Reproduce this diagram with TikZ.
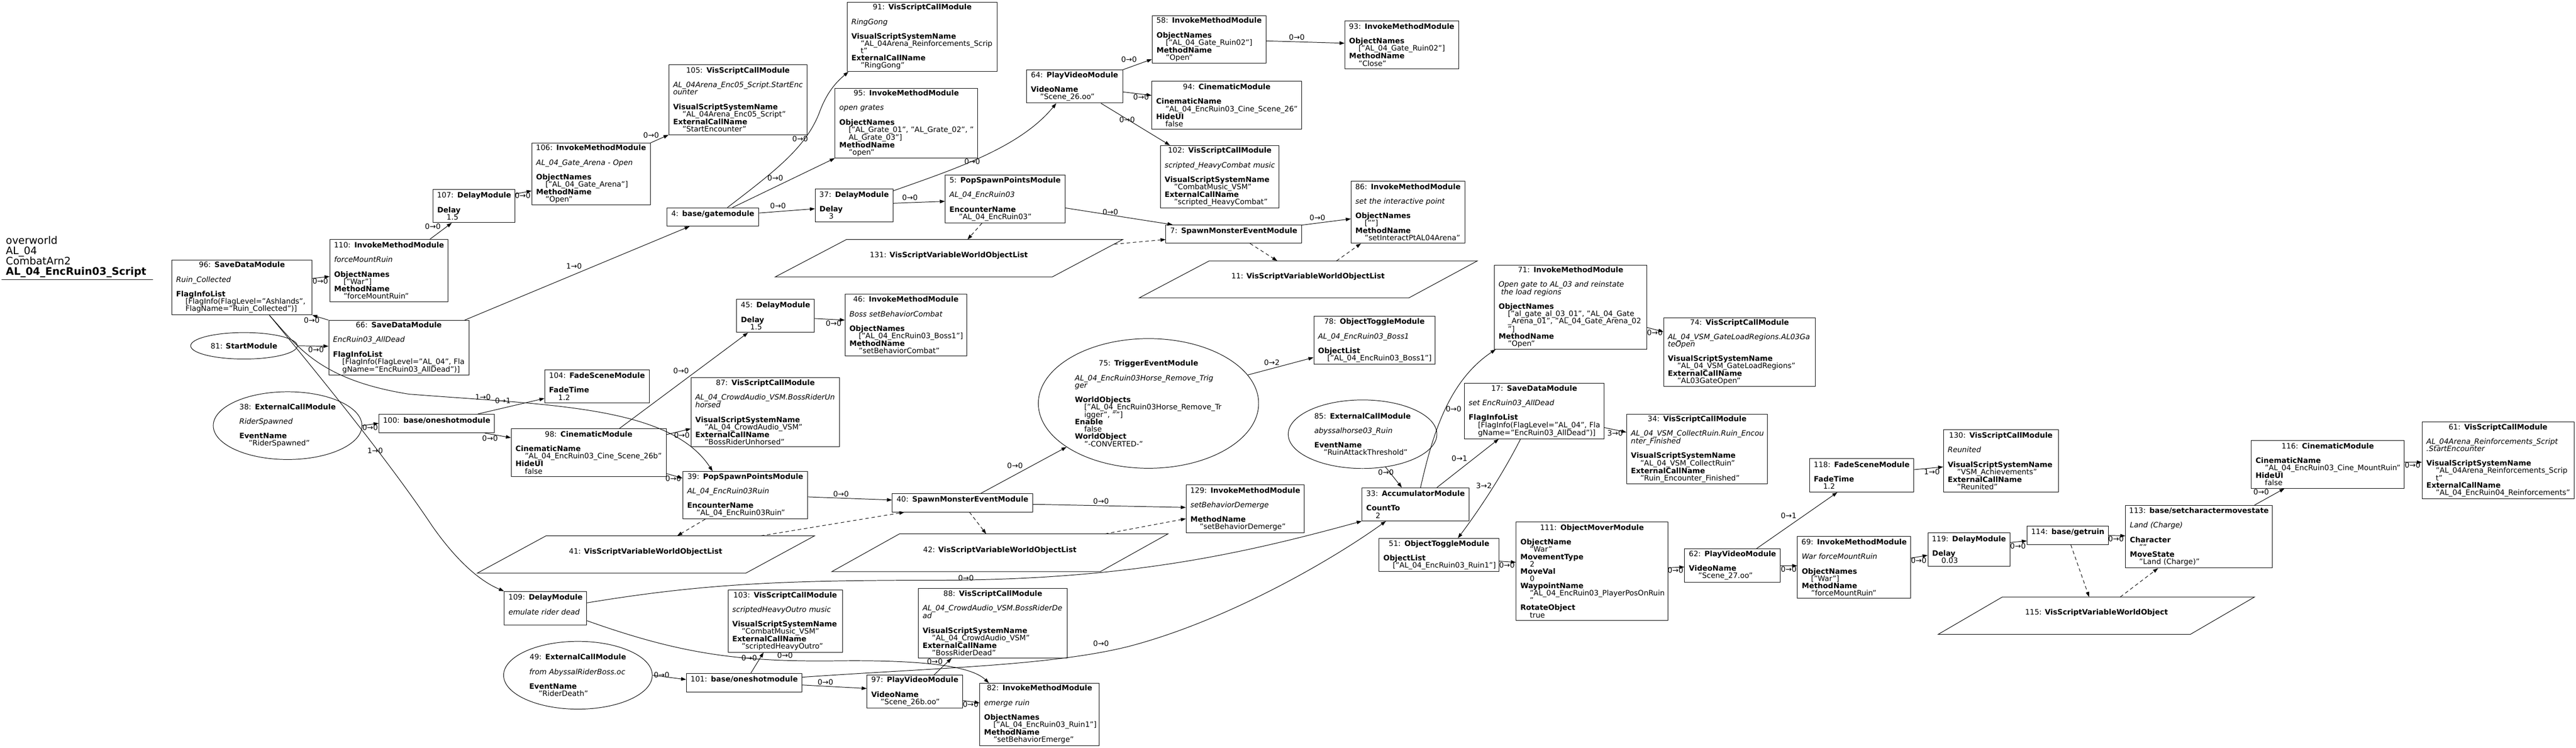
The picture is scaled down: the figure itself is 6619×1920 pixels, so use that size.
\documentclass[tikz,border=0pt]{standalone}
\usepackage{fontspec}
\setmainfont{DejaVu Sans}
\usetikzlibrary{arrows.meta,shapes.geometric}
\newcommand{\nf}{\fontsize{19pt}{18.7pt}\selectfont}
\newcommand{\hdr}[2]{\makebox[\linewidth][c]{#1: \textbf{#2}}}
\newcommand{\itl}[1]{\mbox{\textit{#1}}}
\newcommand{\kw}[1]{\mbox{\textbf{#1}}}
\newcommand{\vl}[1]{\hspace*{24pt}\mbox{#1}}
\newcommand{\bl}{\mbox{}}
\begin{document}
\begin{tikzpicture}[x=1pt,y=-1pt,
  box/.style={draw, line width=1.3pt, rectangle, anchor=north west, inner xsep=11pt, inner ysep=0pt, align=left, font=\nf},
  ell/.style={draw, line width=1.3pt, ellipse, inner sep=0pt, align=left, font=\nf},
  ar/.style={line width=1.3pt, -{Triangle[length=13pt,width=9pt]}},
  dar/.style={ar, dash pattern=on 9pt off 7pt},
  lab/.style={font=\nf, inner sep=0pt},
  plab/.style={font=\nf, inner sep=0pt, align=center},
  pline/.style={draw, line width=1.3pt}]
\fill[white] (0,0) rectangle (6619,1920);
\useasboundingbox (0,0) rectangle (6619,1920);

% title
\node[anchor=north west, inner sep=0pt, align=left, font=\fontsize{26.6pt}{26.5pt}\selectfont] (title) at (15,606) {overworld\\AL\_04\\CombatArn2\\\textbf{AL\_04\_EncRuin03\_Script}};
\draw[line width=1.3pt] (4,718) -- (393,718);

% boxes
\node[box, minimum width=360pt, minimum height=141pt, text width=338pt] (n96) at (441,667) {\hdr{96}{SaveDataModule}\\ \bl\\ \itl{Ruin\_Collected}\\ \bl\\ \kw{FlagInfoList}\\ \vl{[FlagInfo(FlagLevel="Ashlands",}\\ \vl{FlagName="Ruin\_Collected")]}};
\node[box, minimum width=304pt, minimum height=160pt, text width=282pt] (n110) at (847,614) {\hdr{110}{InvokeMethodModule}\\ \bl\\ \itl{forceMountRuin}\\ \bl\\ \kw{ObjectNames}\\ \vl{["War"]}\\ \kw{MethodName}\\ \vl{"forceMountRuin"}};
\node[box, minimum width=211pt, minimum height=85pt, text width=189pt] (n107) at (1112,486) {\hdr{107}{DelayModule}\\ \bl\\ \kw{Delay}\\ \vl{1.5}};
\node[box, minimum width=304pt, minimum height=159pt, text width=282pt] (n106) at (1366,367) {\hdr{106}{InvokeMethodModule}\\ \bl\\ \itl{AL\_04\_Gate\_Arena - Open}\\ \bl\\ \kw{ObjectNames}\\ \vl{["AL\_04\_Gate\_Arena"]}\\ \kw{MethodName}\\ \vl{"Open"}};
\node[box, minimum width=355pt, minimum height=180pt, text width=333pt] (n105) at (1718,165) {\hdr{105}{VisScriptCallModule}\\ \bl\\ \itl{AL\_04Arena\_Enc05\_Script.StartEnc}\\ \itl{ounter}\\ \bl\\ \kw{VisualScriptSystemName}\\ \vl{"AL\_04Arena\_Enc05\_Script"}\\ \kw{ExternalCallName}\\ \vl{"StartEncounter"}};
\node[box, minimum width=386pt, minimum height=178pt, text width=364pt] (n91) at (2176,5) {\hdr{91}{VisScriptCallModule}\\ \bl\\ \itl{RingGong}\\ \bl\\ \kw{VisualScriptSystemName}\\ \vl{"AL\_04Arena\_Reinforcements\_Scrip}\\ \vl{t"}\\ \kw{ExternalCallName}\\ \vl{"RingGong"}};
\node[box, minimum width=366pt, minimum height=178pt, text width=344pt] (n95) at (2145,227) {\hdr{95}{InvokeMethodModule}\\ \bl\\ \itl{open grates}\\ \bl\\ \kw{ObjectNames}\\ \vl{["AL\_Grate\_01", "AL\_Grate\_02", "}\\ \vl{AL\_Grate\_03"]}\\ \kw{MethodName}\\ \vl{"open"}};
\node[box, minimum width=236pt, minimum height=47pt, text width=214pt] (n4) at (1713,533) {\hdr{4}{base/gatemodule}\\ \bl};
\node[box, minimum width=200pt, minimum height=85pt, text width=178pt] (n37) at (2094,484) {\hdr{37}{DelayModule}\\ \bl\\ \kw{Delay}\\ \vl{3}};
\node[box, minimum width=308pt, minimum height=123pt, text width=286pt] (n5) at (2428,449) {\hdr{5}{PopSpawnPointsModule}\\ \bl\\ \itl{AL\_04\_EncRuin03}\\ \bl\\ \kw{EncounterName}\\ \vl{"AL\_04\_EncRuin03"}};
\node[box, minimum width=247pt, minimum height=85pt, text width=225pt] (n64) at (2637,179) {\hdr{64}{PlayVideoModule}\\ \bl\\ \kw{VideoName}\\ \vl{"Scene\_26.oo"}};
\node[box, minimum width=292pt, minimum height=122pt, text width=270pt] (n58) at (2960,40) {\hdr{58}{InvokeMethodModule}\\ \bl\\ \kw{ObjectNames}\\ \vl{["AL\_04\_Gate\_Ruin02"]}\\ \kw{MethodName}\\ \vl{"Open"}};
\node[box, minimum width=292pt, minimum height=123pt, text width=270pt] (n93) at (3455,53) {\hdr{93}{InvokeMethodModule}\\ \bl\\ \kw{ObjectNames}\\ \vl{["AL\_04\_Gate\_Ruin02"]}\\ \kw{MethodName}\\ \vl{"Close"}};
\node[box, minimum width=385pt, minimum height=123pt, text width=363pt] (n94) at (2959,208) {\hdr{94}{CinematicModule}\\ \bl\\ \kw{CinematicName}\\ \vl{"AL\_04\_EncRuin03\_Cine\_Scene\_26"}\\ \kw{HideUI}\\ \vl{false}};
\node[box, minimum width=305pt, minimum height=161pt, text width=283pt] (n102) at (2981,373) {\hdr{102}{VisScriptCallModule}\\ \bl\\ \itl{scripted\_HeavyCombat music}\\ \bl\\ \kw{VisualScriptSystemName}\\ \vl{"CombatMusic\_VSM"}\\ \kw{ExternalCallName}\\ \vl{"scripted\_HeavyCombat"}};
\node[box, minimum width=292pt, minimum height=160pt, text width=270pt] (n86) at (3471,464) {\hdr{86}{InvokeMethodModule}\\ \bl\\ \itl{set the interactive point}\\ \bl\\ \kw{ObjectNames}\\ \vl{[""]}\\ \kw{MethodName}\\ \vl{"setInteractPtAL04Arena"}};
\node[box, minimum width=349pt, minimum height=47pt, text width=327pt] (n7) at (2995,577) {\hdr{7}{SpawnMonsterEventModule}\\ \bl};
\node[box, minimum width=200pt, minimum height=85pt, text width=178pt] (n45) at (1892,768) {\hdr{45}{DelayModule}\\ \bl\\ \kw{Delay}\\ \vl{1.5}};
\node[box, minimum width=312pt, minimum height=160pt, text width=290pt] (n46) at (2171,754) {\hdr{46}{InvokeMethodModule}\\ \bl\\ \itl{Boss setBehaviorCombat}\\ \bl\\ \kw{ObjectNames}\\ \vl{["AL\_04\_EncRuin03\_Boss1"]}\\ \kw{MethodName}\\ \vl{"setBehaviorCombat"}};
\node[box, minimum width=269pt, minimum height=85pt, text width=247pt] (n104) at (1399,949) {\hdr{104}{FadeSceneModule}\\ \bl\\ \kw{FadeTime}\\ \vl{1.2}};
\node[box, minimum width=360pt, minimum height=141pt, text width=338pt] (n66) at (844,822) {\hdr{66}{SaveDataModule}\\ \bl\\ \itl{EncRuin03\_AllDead}\\ \bl\\ \kw{FlagInfoList}\\ \vl{[FlagInfo(FlagLevel="AL\_04", Fla}\\ \vl{gName="EncRuin03\_AllDead")]}};
\node[box, minimum width=297pt, minimum height=48pt, text width=275pt] (n100) at (973,1063) {\hdr{100}{base/oneshotmodule}\\ \bl};
\node[box, minimum width=398pt, minimum height=123pt, text width=376pt] (n98) at (1313,1100) {\hdr{98}{CinematicModule}\\ \bl\\ \kw{CinematicName}\\ \vl{"AL\_04\_EncRuin03\_Cine\_Scene\_26b"}\\ \kw{HideUI}\\ \vl{false}};
\node[box, minimum width=382pt, minimum height=178pt, text width=360pt] (n87) at (1775,969) {\hdr{87}{VisScriptCallModule}\\ \bl\\ \itl{AL\_04\_CrowdAudio\_VSM.BossRiderUn}\\ \itl{horsed}\\ \bl\\ \kw{VisualScriptSystemName}\\ \vl{"AL\_04\_CrowdAudio\_VSM"}\\ \kw{ExternalCallName}\\ \vl{"BossRiderUnhorsed"}};
\node[box, minimum width=321pt, minimum height=122pt, text width=299pt] (n39) at (1754,1210) {\hdr{39}{PopSpawnPointsModule}\\ \bl\\ \itl{AL\_04\_EncRuin03Ruin}\\ \bl\\ \kw{EncounterName}\\ \vl{"AL\_04\_EncRuin03Ruin"}};
\node[box, minimum width=361pt, minimum height=47pt, text width=339pt] (n40) at (2292,1267) {\hdr{40}{SpawnMonsterEventModule}\\ \bl};
\node[box, minimum width=304pt, minimum height=123pt, text width=282pt] (n129) at (3047,1245) {\hdr{129}{InvokeMethodModule}\\ \bl\\ \itl{setBehaviorDemerge}\\ \bl\\ \kw{MethodName}\\ \vl{"setBehaviorDemerge"}};
\node[box, minimum width=212pt, minimum height=86pt, text width=190pt] (n109) at (1295,1518) {\hdr{109}{DelayModule}\\ \bl\\ \itl{emulate rider dead}\\ \bl};
\node[box, minimum width=294pt, minimum height=159pt, text width=272pt] (n103) at (1870,1515) {\hdr{103}{VisScriptCallModule}\\ \bl\\ \itl{scriptedHeavyOutro music}\\ \bl\\ \kw{VisualScriptSystemName}\\ \vl{"CombatMusic\_VSM"}\\ \kw{ExternalCallName}\\ \vl{"scriptedHeavyOutro"}};
\node[box, minimum width=383pt, minimum height=179pt, text width=361pt] (n88) at (2359,1510) {\hdr{88}{VisScriptCallModule}\\ \bl\\ \itl{AL\_04\_CrowdAudio\_VSM.BossRiderDe}\\ \itl{ad}\\ \bl\\ \kw{VisualScriptSystemName}\\ \vl{"AL\_04\_CrowdAudio\_VSM"}\\ \kw{ExternalCallName}\\ \vl{"BossRiderDead"}};
\node[box, minimum width=297pt, minimum height=47pt, text width=275pt] (n101) at (1763,1729) {\hdr{101}{base/oneshotmodule}\\ \bl};
\node[box, minimum width=246pt, minimum height=84pt, text width=224pt] (n97) at (2227,1733) {\hdr{97}{PlayVideoModule}\\ \bl\\ \kw{VideoName}\\ \vl{"Scene\_26b.oo"}};
\node[box, minimum width=307pt, minimum height=160pt, text width=285pt] (n82) at (2517,1754) {\hdr{82}{InvokeMethodModule}\\ \bl\\ \itl{emerge ruin}\\ \bl\\ \kw{ObjectNames}\\ \vl{["AL\_04\_EncRuin03\_Ruin1"]}\\ \kw{MethodName}\\ \vl{"setBehaviorEmerge"}};
\node[box, minimum width=312pt, minimum height=123pt, text width=290pt] (n78) at (3375,812) {\hdr{78}{ObjectToggleModule}\\ \bl\\ \itl{AL\_04\_EncRuin03\_Boss1}\\ \bl\\ \kw{ObjectList}\\ \vl{["AL\_04\_EncRuin03\_Boss1"]}};
\node[box, minimum width=392pt, minimum height=216pt, text width=370pt] (n71) at (3839,680) {\hdr{71}{InvokeMethodModule}\\ \bl\\ \itl{Open gate to AL\_03 and reinstate}\\ \itl{\ the load regions}\\ \bl\\ \kw{ObjectNames}\\ \vl{["al\_gate\_al\_03\_01", "AL\_04\_Gate}\\ \vl{\_Arena\_01", "AL\_04\_Gate\_Arena\_02}\\ \vl{"]}\\ \kw{MethodName}\\ \vl{"Open"}};
\node[box, minimum width=390pt, minimum height=177pt, text width=368pt] (n74) at (4274,815) {\hdr{74}{VisScriptCallModule}\\ \bl\\ \itl{AL\_04\_VSM\_GateLoadRegions.AL03Ga}\\ \itl{teOpen}\\ \bl\\ \kw{VisualScriptSystemName}\\ \vl{"AL\_04\_VSM\_GateLoadRegions"}\\ \kw{ExternalCallName}\\ \vl{"AL03GateOpen"}};
\node[box, minimum width=275pt, minimum height=85pt, text width=253pt] (n33) at (3499,1252) {\hdr{33}{AccumulatorModule}\\ \bl\\ \kw{CountTo}\\ \vl{2}};
\node[box, minimum width=359pt, minimum height=142pt, text width=337pt] (n17) at (3762,984) {\hdr{17}{SaveDataModule}\\ \bl\\ \itl{set EncRuin03\_AllDead}\\ \bl\\ \kw{FlagInfoList}\\ \vl{[FlagInfo(FlagLevel="AL\_04", Fla}\\ \vl{gName="EncRuin03\_AllDead")]}};
\node[box, minimum width=308pt, minimum height=85pt, text width=286pt] (n51) at (3543,1382) {\hdr{51}{ObjectToggleModule}\\ \bl\\ \kw{ObjectList}\\ \vl{["AL\_04\_EncRuin03\_Ruin1"]}};
\node[box, minimum width=390pt, minimum height=252pt, text width=368pt] (n111) at (3895,1340) {\hdr{111}{ObjectMoverModule}\\ \bl\\ \kw{ObjectName}\\ \vl{"War"}\\ \kw{MovementType}\\ \vl{2}\\ \kw{MoveVal}\\ \vl{0}\\ \kw{WaypointName}\\ \vl{"AL\_04\_EncRuin03\_PlayerPosOnRuin}\\ \vl{"}\\ \kw{RotateObject}\\ \vl{true}};
\node[box, minimum width=362pt, minimum height=179pt, text width=340pt] (n34) at (4179,1063) {\hdr{34}{VisScriptCallModule}\\ \bl\\ \itl{AL\_04\_VSM\_CollectRuin.Ruin\_Encou}\\ \itl{nter\_Finished}\\ \bl\\ \kw{VisualScriptSystemName}\\ \vl{"AL\_04\_VSM\_CollectRuin"}\\ \kw{ExternalCallName}\\ \vl{"Ruin\_Encounter\_Finished"}};
\node[box, minimum width=268pt, minimum height=86pt, text width=246pt] (n118) at (4649,1177) {\hdr{118}{FadeSceneModule}\\ \bl\\ \kw{FadeTime}\\ \vl{1.2}};
\node[box, minimum width=295pt, minimum height=160pt, text width=273pt] (n130) at (4993,1103) {\hdr{130}{VisScriptCallModule}\\ \bl\\ \itl{Reunited}\\ \bl\\ \kw{VisualScriptSystemName}\\ \vl{"VSM\_Achievements"}\\ \kw{ExternalCallName}\\ \vl{"Reunited"}};
\node[box, minimum width=246pt, minimum height=85pt, text width=224pt] (n62) at (4328,1409) {\hdr{62}{PlayVideoModule}\\ \bl\\ \kw{VideoName}\\ \vl{"Scene\_27.oo"}};
\node[box, minimum width=291pt, minimum height=159pt, text width=269pt] (n69) at (4618,1377) {\hdr{69}{InvokeMethodModule}\\ \bl\\ \itl{War forceMountRuin}\\ \bl\\ \kw{ObjectNames}\\ \vl{["War"]}\\ \kw{MethodName}\\ \vl{"forceMountRuin"}};
\node[box, minimum width=211pt, minimum height=85pt, text width=189pt] (n119) at (4953,1368) {\hdr{119}{DelayModule}\\ \bl\\ \kw{Delay}\\ \vl{0.03}};
\node[box, minimum width=209pt, minimum height=48pt, text width=187pt] (n114) at (5208,1350) {\hdr{114}{base/getruin}\\ \bl};
\node[box, minimum width=377pt, minimum height=161pt, text width=355pt] (n113) at (5461,1297) {\hdr{113}{base/setcharactermovestate}\\ \bl\\ \itl{Land (Charge)}\\ \bl\\ \kw{Character}\\ \vl{""}\\ \kw{MoveState}\\ \vl{"Land (Charge)"}};
\node[box, minimum width=393pt, minimum height=123pt, text width=371pt] (n116) at (5784,1130) {\hdr{116}{CinematicModule}\\ \bl\\ \kw{CinematicName}\\ \vl{"AL\_04\_EncRuin03\_Cine\_MountRuin"}\\ \kw{HideUI}\\ \vl{false}};
\node[box, minimum width=390pt, minimum height=197pt, text width=368pt] (n61) at (6223,1083) {\hdr{61}{VisScriptCallModule}\\ \bl\\ \itl{AL\_04Arena\_Reinforcements\_Script}\\ \itl{.StartEncounter}\\ \bl\\ \kw{VisualScriptSystemName}\\ \vl{"AL\_04Arena\_Reinforcements\_Scrip}\\ \vl{t"}\\ \kw{ExternalCallName}\\ \vl{"AL\_04\_EncRuin04\_Reinforcements"}};

% ellipses
\node[ell, align=center, minimum width=274pt, minimum height=68pt] (e81) at (627,888) {81: \textbf{StartModule}};
\node[ell, minimum width=382pt, minimum height=174pt, text width=248pt] (e38) at (739,1093) {\hdr{38}{ExternalCallModule}\\ \bl\\ \itl{RiderSpawned}\\ \bl\\ \kw{EventName}\\ \vl{"RiderSpawned"}};
\node[ell, minimum width=382pt, minimum height=174pt, text width=250pt] (e49) at (1485,1734) {\hdr{49}{ExternalCallModule}\\ \bl\\ \itl{from AbyssalRiderBoss.oc}\\ \bl\\ \kw{EventName}\\ \vl{"RiderDeath"}};
\node[ell, minimum width=382pt, minimum height=176pt, text width=248pt] (e85) at (3501,1115) {\hdr{85}{ExternalCallModule}\\ \bl\\ \itl{abyssalhorse03\_Ruin}\\ \bl\\ \kw{EventName}\\ \vl{"RuinAttackThreshold"}};
\node[ell, minimum width=566pt, minimum height=333pt, text width=378pt] (e75) at (2951,1036) {\hdr{75}{TriggerEventModule}\\ \bl\\ \itl{AL\_04\_EncRuin03Horse\_Remove\_Trig}\\ \itl{ger}\\ \bl\\ \kw{WorldObjects}\\ \vl{["AL\_04\_EncRuin03Horse\_Remove\_Tr}\\ \vl{igger", ""]}\\ \kw{Enable}\\ \vl{false}\\ \kw{WorldObject}\\ \vl{"-CONVERTED-"}};

% parallelograms
\draw[pline] (2175,615) -- (2885,615) -- (2704,711) -- (1992,711) -- cycle;
\node[plab] (p131) at (2438,663) {131: \textbf{VisScriptVariableWorldObjectList}\\\mbox{}};
\draw[pline] (3107,670) -- (3796,670) -- (3620,765) -- (2927,765) -- cycle;
\node[plab] (p11) at (3361,718) {11: \textbf{VisScriptVariableWorldObjectList}\\\mbox{}};
\draw[pline] (1403,1376) -- (2093,1376) -- (1916,1472) -- (1226,1472) -- cycle;
\node[plab] (p41) at (1659,1424) {41: \textbf{VisScriptVariableWorldObjectList}\\\mbox{}};
\draw[pline] (2311,1371) -- (3001,1371) -- (2827,1468) -- (2137,1468) -- cycle;
\node[plab] (p42) at (2569,1420) {42: \textbf{VisScriptVariableWorldObjectList}\\\mbox{}};
\draw[pline] (5145,1533) -- (5793,1533) -- (5628,1629) -- (4980,1629) -- cycle;
\node[plab] (p115) at (5387,1581) {115: \textbf{VisScriptVariableWorldObject}\\\mbox{}};
\coordinate (p131in) at (2486,615);
\coordinate (p131out) at (2863,627);
\coordinate (p11in) at (3282,670);
\coordinate (p11out) at (3434,670);
\coordinate (p41in) at (1740,1376);
\coordinate (p41out) at (1955,1376);
\coordinate (p42in) at (2534,1371);
\coordinate (p42out) at (2839,1371);
\coordinate (p115in) at (5368,1533);
\coordinate (p115out) at (5448,1533);

% edges
\draw[ar] (n96.east|-0,715) -- (n110.west|-0,710);
\draw[ar] (n110.north -| 1105,0) -- (n107.south -| 1161,0);
\draw[ar] (n107.east|-0,498) -- (n106.west|-0,490);
\draw[ar] (n106.north east) -- (n105.south west);
\draw[ar] (n66.north west) -- (n96.south east);
\draw[ar] (e81.east) -- (n66.west|-0,889);
\draw[ar] (n66.north -| 1194,0) -- (n4.south -| 1772,0);
\draw[ar] (n96.south -| 692,0) .. controls (765,890) and (820,975) .. (1050,1012) .. controls (1400,1040) and (1720,1040) .. (n39.north -| 1831,0);
\draw[ar] (n96.south -| 692,0) .. controls (850,1000) and (1010,1200) .. (1110,1350) .. controls (1180,1450) and (1240,1495) .. (n109.north west);
\draw[ar] (e38.east) -- (n100.west|-0,1087);
\draw[ar] (n100.north -| 1228,0) -- (n104.west|-0,1023);
\draw[ar] (n100.south -| 1246,0) -- (n98.west|-0,1124);
\draw[ar] (n98.north -| 1592,0) -- (n45.south -| 1922,0);
\draw[ar] (n98.east|-0,1116) -- (n87.west|-0,1101);
\draw[ar] (n98.east|-0,1216) -- (n39.west|-0,1228);
\draw[ar] (n45.east|-0,818) -- (n46.west|-0,822);
\draw[ar] (n4.north -| 1869,0) .. controls (1990,440) and (2070,380) .. (2105,290) .. controls (2125,235) and (2150,210) .. (n91.south -| 2180,0);
\draw[ar] (n4.north -| 1882,0) -- (n95.south west);
\draw[ar] (n4.east|-0,547) -- (n37.west|-0,536);
\draw[ar] (n37.east|-0,490) .. controls (2450,435) and (2620,380) .. (n64.south -| 2714,0);
\draw[ar] (n37.east|-0,522) -- (n5.west|-0,517);
\draw[dar] (n5.south -| 2523,0) -- (p131in);
\draw[ar] (n5.east|-0,534) -- (n7.north -| 3013,0);
\draw[dar] (p131out) -- (n7.west|-0,615);
\draw[dar] (n7.south -| 3212,0) -- (p11in);
\draw[dar] (p11out) -- (n86.south -| 3497,0);
\draw[ar] (n7.east|-0,578) -- (n86.west|-0,562);
\draw[ar] (n64.north east) -- (n58.west|-0,152);
\draw[ar] (n58.east|-0,105) -- (n93.west|-0,111);
\draw[ar] (n64.east|-0,236) -- (n94.west|-0,245);
\draw[ar] (n64.south -| 2829,0) -- (n102.north -| 3006,0);
\draw[ar] (n39.east|-0,1276) -- (n40.west|-0,1284);
\draw[dar] (n39.south -| 1812,0) -- (p41in);
\draw[dar] (p41out) -- (n40.south -| 2324,0);
\draw[dar] (n40.south -| 2491,0) -- (p42in);
\draw[dar] (p42out) -- (n129.west|-0,1332);
\draw[ar] (n40.east|-0,1295) -- (n129.west|-0,1303);
\draw[ar] (n40.north -| 2520,0) -- (e75.208);
\draw[ar] (e75.16) -- (n78.west|-0,918);
\draw[ar] (n33.north -| 3650,0) .. controls (3680,1120) and (3720,980) .. (n71.south -| 3843,0);
\draw[ar] (n33.north -| 3692,0) -- (n17.south -| 3851,0);
\draw[ar] (e85.-55) -- (n33.north -| 3602,0);
\draw[ar] (n17.south -| 3907,0) .. controls (3860,1220) and (3800,1310) .. (n51.north -| 3746,0);
\draw[ar] (n17.east|-0,1098) -- (n34.west|-0,1110);
\draw[ar] (n71.east|-0,841) -- (n74.west|-0,852);
\draw[ar] (n51.east|-0,1441) -- (n111.west|-0,1444);
\draw[ar] (n111.east|-0,1458) -- (n62.west|-0,1456);
\draw[ar] (n62.north -| 4513,0) -- (n118.south -| 4721,0);
\draw[ar] (n62.east|-0,1453) -- (n69.west|-0,1453);
\draw[ar] (n118.east|-0,1206) -- (n130.west|-0,1199);
\draw[ar] (n69.east|-0,1433) -- (n119.west|-0,1426);
\draw[ar] (n119.east|-0,1393) -- (n114.west|-0,1389);
\draw[ar] (n114.east|-0,1375) -- (n113.west|-0,1376);
\draw[dar] (n114.south -| 5321,0) -- (p115in);
\draw[dar] (p115out) -- (n113.south -| 5545,0);
\draw[ar] (n113.north -| 5793,0) -- (n116.south -| 5870,0);
\draw[ar] (n116.east|-0,1187) -- (n61.west|-0,1187);
\draw[ar] (n109.east|-0,1548) .. controls (1800,1500) and (2000,1490) .. (2400,1490) .. controls (2900,1490) and (3200,1420) .. (n33.south west);
\draw[ar] (n109.east|-0,1594) .. controls (1750,1680) and (1900,1700) .. (2150,1697) .. controls (2400,1694) and (2500,1715) .. (n82.north -| 2541,0);
\draw[ar] (e49.east) -- (n101.west|-0,1745);
\draw[ar] (n101.east|-0,1759) -- (n97.west|-0,1768);
\draw[ar] (n101.north -| 1929,0) -- (n103.south -| 1962,0);
\draw[ar] (n101.east|-0,1739) .. controls (2400,1715) and (2700,1710) .. (2900,1660) .. controls (3150,1595) and (3420,1440) .. (n33.south -| 3561,0);
\draw[ar] (n97.north -| 2400,0) -- (n88.south -| 2445,0);
\draw[ar] (n97.east|-0,1799) -- (n82.west|-0,1805);

% edge labels
\node[lab] (lb1) at (823,722) {0→0};
\node[lab] (lb2) at (1112,582) {0→0};
\node[lab] (lb3) at (1343,502) {0→0};
\node[lab] (lb4) at (1673,347) {0→0};
\node[lab] (lb5) at (801,823) {0→0};
\node[lab] (lb6) at (812,898) {0→0};
\node[lab] (lb7) at (1475,684) {1→0};
\node[lab] (lb8) at (1241,1020) {1→0};
\node[lab] (lb9) at (964,1157) {1→0};
\node[lab] (lb10) at (951,1098) {0→0};
\node[lab] (lb11) at (1292,1029) {0→1};
\node[lab] (lb12) at (1259,1125) {0→0};
\node[lab] (lb13) at (1750,952) {0→0};
\node[lab] (lb14) at (1752,1118) {0→0};
\node[lab] (lb15) at (1730,1229) {0→0};
\node[lab] (lb16) at (2142,830) {0→0};
\node[lab] (lb17) at (2056,357) {0→0};
\node[lab] (lb18) at (1992,457) {0→0};
\node[lab] (lb19) at (1999,529) {0→0};
\node[lab] (lb20) at (2498,415) {0→0};
\node[lab] (lb21) at (2338,508) {0→0};
\node[lab] (lb23) at (2853,544) {0→0};
\node[lab] (lb27) at (3385,559) {0→0};
\node[lab] (lb28) at (2901,153) {0→0};
\node[lab] (lb29) at (3332,96) {0→0};
\node[lab] (lb30) at (2932,249) {0→0};
\node[lab] (lb31) at (2896,307) {0→0};
\node[lab] (lb32) at (2161,1269) {0→0};
\node[lab] (lb37) at (2829,1287) {0→0};
\node[lab] (lb38) at (2608,1196) {0→0};
\node[lab] (lb39) at (3268,931) {0→2};
\node[lab] (lb40) at (3735,1050) {0→0};
\node[lab] (lb41) at (3750,1177) {0→1};
\node[lab] (lb42) at (3561,1213) {0→0};
\node[lab] (lb43) at (3813,1248) {3→2};
\node[lab] (lb44) at (4150,1113) {3→0};
\node[lab] (lb45) at (4252,854) {0→0};
\node[lab] (lb46) at (3872,1451) {0→0};
\node[lab] (lb47) at (4305,1465) {0→0};
\node[lab] (lb48) at (4596,1324) {0→1};
\node[lab] (lb49) at (4596,1462) {0→0};
\node[lab] (lb50) at (4964,1211) {1→0};
\node[lab] (lb51) at (4930,1439) {0→0};
\node[lab] (lb52) at (5185,1402) {0→0};
\node[lab] (lb53) at (5437,1384) {0→0};
\node[lab] (lb56) at (5810,1263) {0→0};
\node[lab] (lb57) at (6199,1195) {0→0};
\node[lab] (lb58) at (2482,1484) {0→0};
\node[lab] (lb59) at (2017,1683) {0→0};
\node[lab] (lb60) at (1700,1733) {0→0};
\node[lab] (lb61) at (2121,1752) {0→0};
\node[lab] (lb62) at (1925,1689) {0→0};
\node[lab] (lb63) at (2829,1652) {0→0};
\node[lab] (lb64) at (2402,1699) {0→0};
\node[lab] (lb65) at (2494,1809) {0→0};
\end{tikzpicture}
\end{document}
